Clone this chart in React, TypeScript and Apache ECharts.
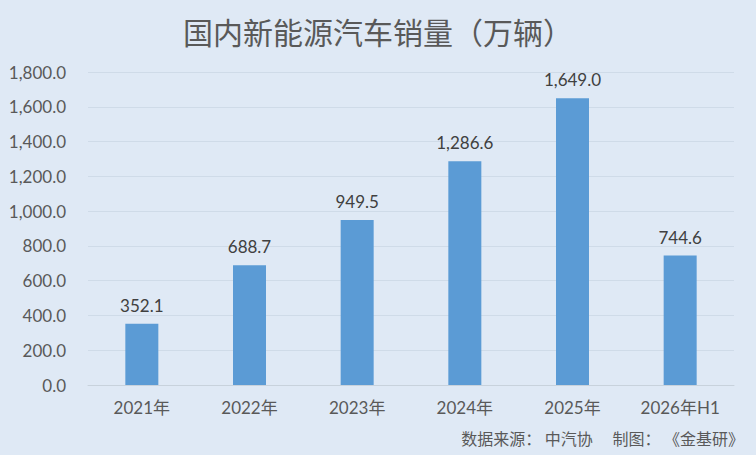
import React, { useEffect, useRef } from "react";
import * as echarts from "echarts";

const categories = ["2021年", "2022年", "2023年", "2024年", "2025年", "2026年H1"];
const sales = [352.1, 688.7, 949.5, 1286.6, 1649.0, 744.6];
const titleText = "国内新能源汽车销量（万辆）";
const sourceText = "数据来源： 中汽协　 制图： 《金基研》";

const FONT = "Lato, 'Noto Sans CJK SC', sans-serif";

function fmt(v: number): string {
  return v.toLocaleString("en-US", { minimumFractionDigits: 1, maximumFractionDigits: 1 });
}

export default function App() {
  const ref = useRef<HTMLDivElement>(null);
  useEffect(() => {
    if (!ref.current) return;
    const chart = echarts.init(ref.current, undefined, { renderer: "svg" });
    chart.setOption({
      animation: false,
      backgroundColor: "#dfe9f5",
      title: {
        text: titleText,
        left: "center",
        top: 11,
        textStyle: { fontFamily: "'Noto Sans CJK SC', sans-serif", fontSize: 30, fontWeight: "normal", color: "#595959" },
      },
      graphic: [
        {
          type: "text",
          right: 12,
          top: 430,
          style: { text: sourceText, font: "16px 'Noto Sans CJK SC', sans-serif", fill: "#595959" },
        },
      ],
      grid: { left: 88, right: 22, top: 72, bottom: 70 },
      xAxis: {
        type: "category",
        data: categories,
        axisTick: { show: false },
        axisLine: { lineStyle: { color: "#c8d2dc" } },
        axisLabel: { color: "#595959", fontSize: 17, fontFamily: FONT, margin: 14 },
      },
      yAxis: {
        type: "value",
        min: 0,
        max: 1800,
        interval: 200,
        axisLine: { show: false },
        axisTick: { show: false },
        splitLine: { lineStyle: { color: "#cfdbe8" } },
        axisLabel: { color: "#595959", fontSize: 17, fontFamily: FONT, margin: 22, formatter: (v: number) => fmt(v) },
      },
      series: [
        {
          type: "bar",
          data: sales,
          barWidth: 33,
          itemStyle: { color: "#5b9bd5" },
          label: {
            show: true,
            position: "top",
            distance: 10,
            color: "#404040",
            fontSize: 17,
            fontFamily: FONT,
            formatter: (p: any) => fmt(p.value),
          },
        },
      ],
    });
    return () => chart.dispose();
  }, []);
  return <div ref={ref} style={{ width: 756, height: 455, position: "absolute", left: 0, top: 0 }} />;
}
